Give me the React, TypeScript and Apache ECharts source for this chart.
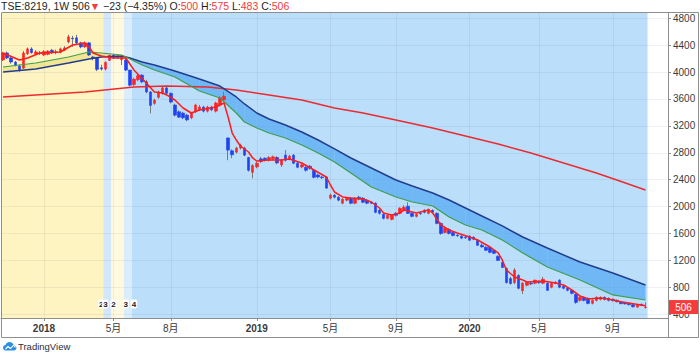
import React, { useEffect, useRef } from 'react';
import * as echarts from 'echarts';

// ---------- data ----------
const N_CATS = 163; // weekly slots incl. empty space on the right
const FIRST_WEEK = Date.UTC(2017, 9, 23);

// [open, high, low, close] weekly
const candles: [number, number, number, number][] = [
  [4180,4300,4165,4285],[4285,4305,4195,4210],[4210,4225,4125,4150],[4150,4165,4085,4105],[4090,4115,4005,4035],
  [4060,4315,4045,4285],[4275,4365,4255,4345],[4345,4370,4275,4290],[4270,4325,4255,4300],[4285,4315,4255,4280],
  [4255,4325,4240,4305],[4265,4325,4250,4310],[4325,4345,4270,4285],[4295,4335,4265,4300],[4295,4365,4280,4345],
  [4325,4385,4315,4360],[4450,4555,4425,4525],[4505,4540,4375,4495],[4510,4555,4415,4435],[4435,4450,4355,4375],
  [4375,4455,4360,4435],[4435,4445,4240,4255],[4225,4240,4175,4210],[4210,4225,4015,4040],[4065,4110,4025,4045],
  [4045,4160,4025,4145],[4175,4255,4165,4250],[4250,4265,4195,4210],[4225,4250,4195,4215],[4185,4240,4105,4225],
  [4180,4200,4015,4030],[4030,4035,3785,3805],[3815,3915,3795,3895],[3885,3975,3865,3945],[3955,3970,3835,3855],
  [3855,3885,3685,3705],[3705,3715,3385,3505],[3535,3605,3515,3585],[3625,3725,3605,3705],[3685,3785,3665,3765],
  [3765,3785,3675,3685],[3685,3695,3535,3555],[3510,3530,3340,3360],[3410,3430,3320,3330],[3390,3410,3300,3320],
  [3360,3380,3270,3290],[3320,3410,3300,3390],[3410,3530,3390,3510],[3440,3510,3420,3480],[3480,3500,3400,3420],
  [3420,3500,3400,3480],[3480,3500,3420,3440],[3420,3560,3400,3540],[3510,3640,3490,3620],[3590,3710,3570,3640],
  [3020,3030,2690,2840],[2830,2850,2720,2770],[2810,2890,2790,2870],[2870,2935,2850,2915],[2870,2890,2750,2765],
  [2730,2740,2520,2540],[2510,2630,2420,2610],[2590,2670,2570,2645],[2710,2740,2650,2670],[2720,2730,2670,2690],
  [2690,2750,2670,2730],[2710,2760,2690,2740],[2730,2750,2630,2650],[2620,2710,2590,2690],[2765,2840,2670,2690],
  [2710,2770,2690,2750],[2765,2780,2630,2645],[2645,2660,2570,2585],[2590,2640,2570,2620],[2585,2600,2520,2540],
  [2600,2620,2550,2570],[2540,2560,2420,2435],[2470,2490,2420,2440],[2440,2460,2410,2430],[2440,2450,2265,2275],
  [2125,2195,2105,2170],[2170,2185,2120,2140],[2140,2155,2080,2095],[2050,2125,2035,2110],[2095,2140,2080,2125],
  [2125,2140,2035,2050],[2050,2140,2035,2125],[2140,2160,2095,2110],[2125,2140,2050,2065],[2095,2110,2035,2050],
  [2065,2080,2035,2050],[2050,2065,1900,1915],[1945,1960,1880,1900],[1885,1900,1810,1825],[1825,1880,1810,1870],
  [1810,1880,1795,1870],[1900,1920,1850,1870],[1900,1990,1885,1975],[1945,2020,1930,1990],[2005,2065,1890,1900],
  [1900,1915,1840,1855],[1855,1900,1840,1885],[1900,1920,1875,1895],[1945,1960,1900,1915],[1900,1970,1885,1960],
  [1945,1960,1900,1915],[1900,1915,1735,1750],[1750,1765,1580,1600],[1615,1690,1600,1675],[1660,1680,1585,1600],
  [1615,1630,1555,1570],[1575,1595,1550,1565],[1560,1575,1515,1530],[1545,1560,1520,1535],[1560,1575,1490,1500],
  [1545,1560,1500,1515],[1500,1515,1415,1425],[1425,1455,1390,1400],[1395,1410,1340,1350],[1395,1410,1305,1320],
  [1350,1365,1295,1305],[1260,1275,1190,1200],[1170,1185,1085,1095],[1080,1095,855,870],[930,955,840,855],
  [870,1085,845,1055],[975,995,770,785],[750,875,700,860],[830,890,815,875],[860,880,830,850],
  [860,915,845,905],[875,900,850,870],[860,955,845,920],[860,875,745,755],[800,875,785,860],
  [860,890,845,875],[905,920,785,800],[815,830,770,785],[785,800,740,755],[755,770,695,710],
  [695,710,555,575],[605,665,590,650],[650,665,590,605],[635,650,545,560],[560,620,545,605],
  [605,665,590,650],[620,665,605,650],[650,665,605,620],[635,650,590,605],[620,635,590,600],
  [605,620,575,585],[585,595,550,555],[565,575,545,552],[560,570,530,540],[540,550,500,510],
  [505,545,495,538],[545,560,520,529],[500,575,483,506],
];

// fast red average (week index, value)
const fastIdx = [0,4,6,9,14,17,20,21,22,24,27,30,32,35,37,39,40,42,44,46,48,52,54,55,56,57,58,60,61,62,65,68,70,73,76,79,80,81,83,85,88,90,92,93,95,97,98,100,101,104,105,107,109,111,114,116,119,121,122,123,125,127,128,132,135,137,139,141,143,146,148,151,154,157];
const fastMA = [4284,4180,4210,4284,4299,4403,4433,4373,4284,4239,4210,4210,4031,3838,3704,3689,3660,3585,3466,3392,3436,3481,3541,3332,3094,2990,2901,2812,2723,2678,2693,2693,2708,2648,2544,2440,2321,2217,2143,2128,2113,2068,1979,1905,1875,1905,1949,1920,1905,1949,1905,1726,1652,1607,1548,1503,1399,1310,1206,1057,953,909,879,894,864,834,760,671,626,641,626,585,555,525];

// green / navy averages (shared sample weeks)
const bandIdx = [0,8,16,21,24,29,31,34,37,42,48,53,57,59,62,65,69,73,77,81,85,90,96,100,105,109,113,117,122,127,133,141,149,157];
const greenMA = [4076,4135,4225,4299,4284,4254,4195,4106,4031,3927,3719,3615,3392,3258,3169,3094,3020,2916,2797,2663,2500,2291,2143,2068,2009,1845,1726,1652,1503,1310,1102,909,686,611];
const navyMA = [4000,4046,4135,4195,4225,4239,4210,4150,4106,4016,3897,3793,3630,3526,3392,3303,3213,3109,2990,2857,2723,2574,2396,2306,2202,2098,1979,1860,1712,1548,1384,1176,1013,834];

// long red average
const slowIdx = [0,20,32,40,50,57,65,73,81,88,96,105,113,121,129,137,145,150,157];
const slowMA = [3630,3704,3779,3793,3779,3734,3660,3585,3466,3392,3288,3169,3050,2931,2797,2648,2500,2396,2247];

// background regimes: [first week, last week, kind]
const bgSpans: [number, number, number][] = [[0,24,0],[25,26,1],[27,29,2],[30,31,3],[32,157,4]];
// count markers: [week, text]
const countMarks: [number, string][] = [[24,'2'],[25,'3'],[27,'2'],[30,'3'],[32,'4']];

const tickDates = ['2018-01-01','2018-04-30','2018-08-06','2018-12-31','2019-05-06','2019-08-26','2019-12-30','2020-04-27','2020-08-31'];
const tickLabels = ['2018','5月','8月','2019','5月','9月','2020','5月','9月'];
const yTicks = [400,800,1200,1600,2000,2400,2800,3200,3600,4000,4400,4800];
const lastClose = 506;

// ---------- styles ----------
const FRAME = '#8e8e8e';
const BG_COLORS = ['#fdf4c2', '#d2e7fa', '#fffadf', '#dbedfc', '#bbdefb'];
const UP = '#ff2424';
const DOWN = '#1f43f2';
const FONT = '"Liberation Sans", Arial, "Noto Sans CJK JP", sans-serif';

const weekDates: string[] = [];
for (let i = 0; i < N_CATS; i++) {
  weekDates.push(new Date(FIRST_WEEK + i * 7 * 86400000).toISOString().slice(0, 10));
}
const tickMap = new Map<string, string>();
tickDates.forEach((d, k) => tickMap.set(d, tickLabels[k]));
const isTick = (_i: number, v: string) => tickMap.has(v);

const TvLogo = echarts.graphic.extendPath(
  'M5 14 C1.5 14 0 11.5 0 9.5 C0 7 2 5 4.5 5 C5.5 2 8.5 0 12 0 C15.5 0 18.5 2.5 19 5.5 C22 5.8 24 8 24 10 C24 12.3 22 14 19.5 14 Z',
  {}
);
echarts.graphic.registerShape('tvlogo', TvLogo);

export default function App() {
  const ref = useRef<HTMLDivElement>(null);
  useEffect(() => {
    if (!ref.current) return;
    const chart = echarts.init(ref.current, undefined, { renderer: 'svg' });

    const bodies = candles.map(([o, , , c]) => [o, c, Math.min(o, c), Math.max(o, c)]);
    const wicks = candles.map(([o, h, l, c]) => [o, c, l, h]);
    const pairs = (idx: number[], vals: number[]) => idx.map((k, j) => [k, vals[j]]);

    const option: any = {
      animation: false,
      backgroundColor: '#ffffff',
      textStyle: { fontFamily: FONT },
      grid: { left: 1, right: 32, top: 13, bottom: 38 },
      xAxis: {
        type: 'category',
        data: weekDates,
        boundaryGap: true,
        axisLine: { lineStyle: { color: FRAME } },
        axisTick: { show: true, alignWithLabel: true, interval: isTick, length: 3, lineStyle: { color: FRAME } },
        axisLabel: {
          interval: isTick,
          margin: 5,
          formatter: (v: string) => {
            const t = tickMap.get(v) || '';
            return /^\d{4}$/.test(t) ? `{y|${t}}` : `{m|${t}}`;
          },
          rich: {
            y: { fontSize: 10, fontWeight: 'bold', color: '#3a3a3a', fontFamily: FONT },
            m: { fontSize: 10, color: '#3a3a3a', fontFamily: FONT },
          },
        },
        splitLine: { show: true, interval: isTick, alignWithLabel: true, lineStyle: { color: 'rgba(60,70,90,0.08)' } },
      },
      yAxis: {
        type: 'value',
        position: 'right',
        min: 343,
        max: 4879,
        axisLine: { show: true, onZero: false, lineStyle: { color: FRAME } },
        axisTick: { show: true, length: 3, customValues: yTicks, lineStyle: { color: FRAME } },
        axisLabel: {
          customValues: yTicks,
          showMaxLabel: true,
          formatter: (v: number) => `{n|${Math.round(v)}}`,
          rich: { n: { fontSize: 10, color: '#3a3a3a', fontFamily: FONT } },
          color: '#3a3a3a',
          fontSize: 10,
          margin: 5,
          fontFamily: FONT,
        },
        splitLine: { show: true, lineStyle: { color: 'rgba(60,70,90,0.07)' } },
      },
      series: [
        {
          type: 'custom',
          name: 'bg',
          z: -1,
          silent: true,
          data: bgSpans.map((s) => [s[0], s[1], s[2]]),
          encode: { x: [0, 1] },
          renderItem: (params: any, api: any) => {
            const s = api.value(0), e = api.value(1), k = bgSpans[params.dataIndex][2];
            const bw = api.size([1, 0])[0];
            const x0 = api.coord([s, 1000])[0] - bw / 2;
            const x1 = api.coord([e, 1000])[0] + bw / 2;
            const cs = params.coordSys;
            return { type: 'rect', shape: { x: x0, y: cs.y, width: x1 - x0, height: cs.height }, style: { fill: BG_COLORS[k] } };
          },
        },
        {
          type: 'custom',
          name: 'band',
          z: 1,
          silent: true,
          data: bandIdx.slice(0, -1).map((k, j) => [k, bandIdx[j + 1], j]),
          encode: { x: [0, 1] },
          renderItem: (params: any, api: any) => {
            const j = params.dataIndex;
            const a = bandIdx[j], b = bandIdx[j + 1];
            const g0 = api.coord([a, greenMA[j]]), g1 = api.coord([b, greenMA[j + 1]]);
            const n0 = api.coord([a, navyMA[j]]), n1 = api.coord([b, navyMA[j + 1]]);
            const d0 = greenMA[j] - navyMA[j], d1 = greenMA[j + 1] - navyMA[j + 1];
            const col = (d: number) => (d >= 0 ? 'rgba(226,212,90,0.45)' : 'rgba(66,160,240,0.62)');
            if (d0 * d1 >= 0) {
              return { type: 'polygon', shape: { points: [g0, g1, n1, n0] }, style: { fill: col(d0 + d1) } };
            }
            const t = d0 / (d0 - d1);
            const c = [g0[0] + t * (g1[0] - g0[0]), g0[1] + t * (g1[1] - g0[1])];
            return {
              type: 'group',
              children: [
                { type: 'polygon', shape: { points: [g0, c, n0] }, style: { fill: col(d0) } },
                { type: 'polygon', shape: { points: [c, g1, n1] }, style: { fill: col(d1) } },
              ],
            };
          },
        },
        {
          type: 'candlestick',
          name: 'wick',
          z: 2,
          silent: true,
          barWidth: 1,
          data: wicks,
          itemStyle: { color: '#7a7a7a', color0: '#7a7a7a', borderColor: '#7a7a7a', borderColor0: '#7a7a7a', borderWidth: 1 },
        },
        {
          type: 'candlestick',
          name: 'body',
          z: 3,
          silent: true,
          barWidth: 3,
          data: bodies,
          itemStyle: { color: UP, color0: DOWN, borderColor: UP, borderColor0: DOWN, borderWidth: 0.6 },
        },
        {
          type: 'line', name: 'slow', z: 4, silent: true, symbol: 'none',
          data: pairs(slowIdx, slowMA),
          lineStyle: { color: '#ec2a2f', width: 1.5 },
        },
        {
          type: 'line', name: 'navy', z: 4, silent: true, symbol: 'none',
          data: pairs(bandIdx, navyMA),
          lineStyle: { color: '#233d8e', width: 1.5 },
        },
        {
          type: 'line', name: 'green', z: 4, silent: true, symbol: 'none',
          data: pairs(bandIdx, greenMA),
          lineStyle: { color: '#3f9e4c', width: 1.2 },
        },
        {
          type: 'line', name: 'fast', z: 5, silent: true, symbol: 'none',
          data: pairs(fastIdx, fastMA),
          lineStyle: { color: '#ff1c1c', width: 1.5 },
        },
        {
          type: 'custom',
          name: 'counts',
          z: 6,
          silent: true,
          data: countMarks.map((m) => [m[0]]),
          encode: { x: 0 },
          renderItem: (params: any, api: any) => {
            const x = api.coord([api.value(0), 1000])[0];
            const cs = params.coordSys;
            return {
              type: 'text',
              x,
              y: cs.y + cs.height - 14,
              style: {
                text: countMarks[params.dataIndex][1],
                fill: '#222',
                font: 'bold 8px ' + FONT,
                align: 'center',
                verticalAlign: 'middle',
                backgroundColor: '#ffffff',
                padding: [1, 1, 0, 1],
                borderRadius: 2,
              },
            };
          },
        },
        {
          type: 'custom',
          name: 'lastPrice',
          z: 7,
          silent: true,
          clip: false,
          data: [[candles.length - 1, lastClose]],
          encode: { x: 0, y: 1 },
          renderItem: (params: any, api: any) => {
            const v = api.value(1);
            const p = api.coord([api.value(0), v]);
            const cs = params.coordSys;
            const x = cs.x + cs.width + 1;
            return {
              type: 'group',
              children: [
                { type: 'rect', shape: { x, y: p[1] - 7, width: 29, height: 14 }, style: { fill: '#f73b3b' } },
                {
                  type: 'text',
                  x: x + 14.5,
                  y: p[1],
                  style: { text: String(v), fill: '#ffffff', font: '10px ' + FONT, align: 'center', verticalAlign: 'middle' },
                },
              ],
            };
          },
        },
      ],
      graphic: [
        {
          type: 'text',
          x: 1,
          y: 1,
          style: {
            text: '{d|TSE:8219, 1W 506}{r|▼}{d| −23 (−4.35%) O:}{r|500}{d| H:}{r|575}{d| L:}{r|483}{d| C:}{r|506}',
            rich: {
              d: { fill: '#1c1f26', fontSize: 10.5, fontFamily: FONT },
              r: { fill: '#f23b3b', fontSize: 10.5, fontFamily: FONT },
            },
          },
        },
        {
          type: 'polyline',
          shape: { points: [[1.5, 13], [1.5, 337.5], [698.5, 337.5], [698.5, 12.5], [1.5, 12.5]] },
          style: { stroke: FRAME, lineWidth: 1, fill: null },
        },
        {
          type: 'line',
          shape: { x1: 668.5, y1: 318, x2: 668.5, y2: 337.5 },
          style: { stroke: FRAME, lineWidth: 1 },
        },
        {
          type: 'tvlogo',
          x: 3,
          y: 342,
          scaleX: 0.56,
          scaleY: 0.6,
          style: { fill: '#2e8fe0' },
        },
        {
          type: 'polyline',
          shape: { points: [[5.5, 349], [8, 346.5], [10.5, 348.5], [13.5, 345.2], [15.5, 347.3]] },
          style: { stroke: '#ffffff', lineWidth: 1.1, fill: null },
        },
        {
          type: 'text',
          x: 18,
          y: 342,
          style: { text: 'TradingView', fill: '#2a2e39', font: '9.5px ' + FONT },
        },
      ],
    };

    chart.setOption(option);
    return () => chart.dispose();
  }, []);

  return (
    <div
      ref={ref}
      style={{ position: 'fixed', left: 0, top: 0, width: 700, height: 356, background: '#fff' }}
    />
  );
}
